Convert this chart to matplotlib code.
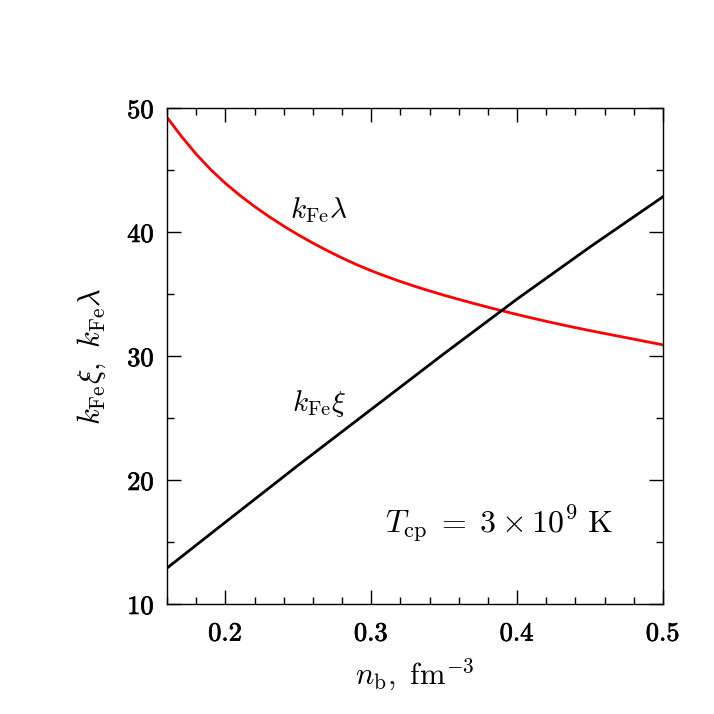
# -*- coding: utf-8 -*-
"""
k_Fe xi and k_Fe lambda versus baryon density at T_cp = 3e9 K
"""
#%% import
import numpy as np
import matplotlib
matplotlib.use('Agg')
import matplotlib.pyplot as plt
import matplotlib.patheffects as pe
from matplotlib.ticker import MultipleLocator, FuncFormatter

plt.rcParams['mathtext.fontset'] = 'cm'
plt.rcParams['font.family'] = 'serif'
plt.rcParams['font.serif'] = ['DejaVu Serif']

#%% data
nb_xi = [0.16, 0.20, 0.25, 0.30, 0.35, 0.40, 0.45, 0.50]
kxi = [12.9, 16.6, 21.2, 25.7, 30.2, 34.6, 38.8, 42.85]

nb_lam = [0.16, 0.17, 0.18, 0.19, 0.20, 0.21, 0.22, 0.23, 0.24, 0.25,
          0.26, 0.27, 0.28, 0.29, 0.30, 0.31, 0.32, 0.33, 0.34, 0.35,
          0.36, 0.37, 0.38, 0.39, 0.40, 0.41, 0.42, 0.43, 0.44, 0.45,
          0.46, 0.47, 0.48, 0.49, 0.50]
klam = [49.25, 47.70, 46.28, 45.03, 43.93, 42.95, 42.06, 41.24, 40.48, 39.77,
        39.11, 38.49, 37.91, 37.37, 36.88, 36.43, 36.01, 35.62, 35.25, 34.90,
        34.57, 34.25, 33.94, 33.64, 33.35, 33.07, 32.80, 32.54, 32.29, 32.05,
        31.82, 31.59, 31.36, 31.13, 30.90]

#%% plot
fig = plt.figure(figsize=(7.14, 7.14), dpi=100)
ax = fig.add_axes([0.2339, 0.154, 0.6947, 0.6947])

ax.plot(nb_lam, klam, color='red', lw=2.0)
ax.plot(nb_xi, kxi, color='black', lw=2.0)

ax.set_xlim(0.16, 0.5)
ax.set_ylim(10, 50)

ax.xaxis.set_major_locator(MultipleLocator(0.1))
ax.xaxis.set_minor_locator(MultipleLocator(0.02))
ax.yaxis.set_major_locator(MultipleLocator(10))
ax.yaxis.set_minor_locator(MultipleLocator(5))
ax.xaxis.set_major_formatter(FuncFormatter(lambda v, p: r'$\mathbf{%.1f}$' % v))
ax.yaxis.set_major_formatter(FuncFormatter(lambda v, p: r'$\mathbf{%d}$' % round(v)))

ax.tick_params(which='both', direction='in', top=True, right=True, width=1.0)
ax.tick_params(which='major', length=10, labelsize=19)
ax.tick_params(which='minor', length=5)
ax.tick_params(axis='x', which='major', pad=12)
ax.tick_params(axis='y', which='major', pad=9)
for s in ax.spines.values():
    s.set_linewidth(1.0)

# heavier tick labels
bold = [pe.withStroke(linewidth=0.5, foreground='black')]
for lab in ax.get_xticklabels() + ax.get_yticklabels():
    lab.set_path_effects(bold)

ax.text(0.244, 41.8, r'$k_{\rm Fe}\lambda$', fontsize=21, ha='left', va='center')
ax.text(0.2457, 26.2, r'$k_{\rm Fe}\xi$', fontsize=21, ha='left', va='center')
ax.text(0.3094, 16.5, r'$T_{\rm cp}\;=\;3\times10^9\ {\rm K}$', fontsize=23,
        ha='left', va='center')

ax.set_xlabel(r'$n_{\rm b},\ {\rm fm}^{-3}$', fontsize=22, labelpad=8)
ax.set_ylabel(r'$k_{\rm Fe}\xi,\ k_{\rm Fe}\lambda$', fontsize=22, labelpad=14)

fig.savefig('out.png', dpi=100)
